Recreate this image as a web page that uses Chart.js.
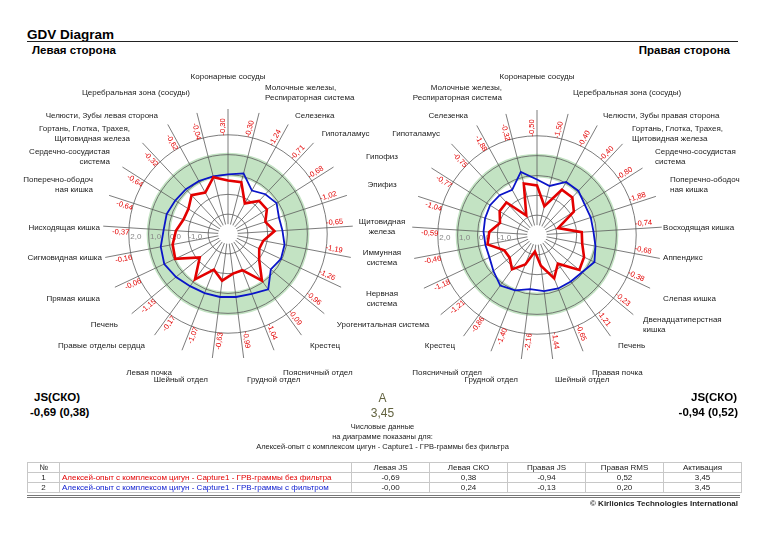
<!DOCTYPE html>
<html>
<head>
<meta charset="utf-8">
<script src="https://cdn.jsdelivr.net/npm/chart.js@4.4.0/dist/chart.umd.min.js"></script>
<style>
  body { margin: 0; background: #fff; font-family: 'Liberation Sans', Arial, sans-serif; color: #000; }
  #page { position: relative; width: 765px; height: 535px; overflow: hidden; }
  .t { position: absolute; white-space: nowrap; line-height: 1; }
  canvas { position: absolute; top: 60px; }
  #leftChart { left: 0; }
  #rightChart { left: 371px; background: #fff; }
  #rule { position: absolute; left: 27px; top: 41px; width: 711px; height: 1px; background: #222; }
  table { position: absolute; left: 27px; top: 462px; border-collapse: collapse; font-size: 8px; table-layout: fixed; }
  td { border: 1px solid #c8c8c8; height: 9px; padding: 0 2px; text-align: center; line-height: 9px; white-space: nowrap; overflow: hidden; color: #222; }
  td.name { text-align: left; }
  #dbl { position: absolute; left: 27px; top: 495px; width: 713px; height: 0; border-top: 3px double #777; }
</style>
</head>
<body>
<div id="page">
  <div class="t" style="left:27px;top:28px;font-size:13.5px;font-weight:bold">GDV Diagram</div>
  <div id="rule"></div>
  <div class="t" style="left:32px;top:45px;font-size:11.5px;font-weight:bold">Левая сторона</div>
  <div class="t" style="right:35px;top:45px;font-size:11.5px;font-weight:bold">Правая сторона</div>

  <canvas id="leftChart" width="765" height="330"></canvas>
  <canvas id="rightChart" width="394" height="330"></canvas>

  <div class="t" style="left:34px;top:392px;font-size:11.5px;font-weight:bold">JS(СКО)</div>
  <div class="t" style="left:30px;top:407px;font-size:11.5px;font-weight:bold">-0,69 (0,38)</div>
  <div class="t" style="right:28px;top:392px;font-size:11.5px;font-weight:bold">JS(СКО)</div>
  <div class="t" style="right:27px;top:407px;font-size:11.5px;font-weight:bold">-0,94 (0,52)</div>

  <div class="t" style="left:0;width:765px;text-align:center;top:392px;font-size:12px;color:#62623f">A</div>
  <div class="t" style="left:0;width:765px;text-align:center;top:407px;font-size:12px;color:#62623f">3,45</div>
  <div class="t" style="left:0;width:765px;text-align:center;top:423px;font-size:7.5px;color:#222">Числовые данные</div>
  <div class="t" style="left:0;width:765px;text-align:center;top:433px;font-size:7.5px;color:#222">на диаграмме показаны для:</div>
  <div class="t" style="left:0;width:765px;text-align:center;top:443px;font-size:7.5px;color:#222">Алексей-опыт с комплексом цигун - Capture1 - ГРВ-граммы без фильтра</div>

  <table>
    <colgroup>
      <col style="width:32px"><col style="width:292px"><col style="width:78px"><col style="width:78px"><col style="width:78px"><col style="width:78px"><col style="width:78px">
    </colgroup>
    <tr><td>№</td><td></td><td>Левая JS</td><td>Левая СКО</td><td>Правая JS</td><td>Правая RMS</td><td>Активация</td></tr>
    <tr><td>1</td><td class="name" style="color:#e30000">Алексей-опыт с комплексом цигун - Capture1 - ГРВ-граммы без фильтра</td><td>-0,69</td><td>0,38</td><td>-0,94</td><td>0,52</td><td>3,45</td></tr>
    <tr><td>2</td><td class="name" style="color:#1020d0">Алексей-опыт с комплексом цигун - Capture1 - ГРВ-граммы с фильтром</td><td>-0,00</td><td>0,24</td><td>-0,13</td><td>0,20</td><td>3,45</td></tr>
  </table>
  <div id="dbl"></div>
  <div class="t" style="right:27px;top:500px;font-size:8px;font-weight:bold;color:#222">© Kirlionics Technologies International</div>
</div>

<script>
// Органы / зоны по секторам (по часовой стрелке от верха)
const labelsLeft = [
  'Коронарные сосуды', ['Молочные железы,', 'Респираторная система'], 'Селезенка', 'Гипоталамус',
  'Гипофиз', 'Эпифиз', ['Щитовидная', 'железа'], ['Иммунная', 'система'], ['Нервная', 'система'],
  'Урогенитальная система', 'Крестец', 'Поясничный отдел', 'Грудной отдел', 'Шейный отдел',
  'Левая почка', 'Правые отделы сердца', 'Печень', 'Прямая кишка', 'Сигмовидная кишка',
  'Нисходящая кишка', ['Поперечно-ободоч', 'ная кишка'], ['Сердечно-сосудистая', 'система'],
  ['Гортань, Глотка, Трахея,', 'Щитовидная железа'], 'Челюсти, Зубы левая сторона', 'Церебральная зона (сосуды)'
];
const labelsRight = [
  'Коронарные сосуды', 'Церебральная зона (сосуды)', 'Челюсти, Зубы правая сторона',
  ['Гортань, Глотка, Трахея,', 'Щитовидная железа'], ['Сердечно-сосудистая', 'система'],
  ['Поперечно-ободоч', 'ная кишка'], 'Восходящая кишка', 'Аппендикс', 'Слепая кишка',
  ['Двенадцатиперстная', 'кишка'], 'Печень', 'Правая почка', 'Шейный отдел', 'Грудной отдел',
  'Поясничный отдел', 'Крестец', 'Урогенитальная система', ['Нервная', 'система'], ['Иммунная', 'система'],
  ['Щитовидная', 'железа'], 'Эпифиз', 'Гипофиз', 'Гипоталамус', 'Селезенка', ['Молочные железы,', 'Респираторная система']
];

// Без фильтра (красная линия, подписанные значения)
const leftRaw = [-0.30, -0.30, -1.24, -0.71, -0.68, -1.02, -0.65, -1.19, -1.26, -0.96, -0.09, -1.04, -0.99,
  -0.63, -1.07, -0.17, -1.15, -0.06, -0.16, -0.37, -0.64, -0.64, -0.32, -0.62, -0.04];
const rightRaw = [-0.50, -1.50, -0.40, -0.40, -0.80, -1.88, -0.74, -0.68, -0.38, -0.23, -1.21, -0.65, -1.44,
  -2.16, -1.40, -0.86, -1.21, -1.18, -0.46, -0.59, -1.04, -0.77, -0.75, -1.88, -0.32];
// С фильтром (синяя линия)
const leftFilt = [0.0, 0.15, -0.5, -0.25, -0.1, -0.3, -0.25, -0.1, -0.05, -0.2, 0.45, 0.25, 0.2,
  0.2, 0.2, 0.25, 0.4, 0.55, 0.45, 0.25, 0.25, 0.15, 0.1, 0.05, 0.0];
const rightFilt = [-0.2, -0.45, 0.05, 0.05, -0.15, -0.15, -0.15, 0.0, 0.2, -0.05, -0.1, -0.1, -0.15,
  -0.25, 0.0, 0.15, -0.15, -0.35, -0.35, -0.3, -0.25, -0.2, -0.25, -0.4, 0.28];

const tickValues = [-1, 0, 1, 2];
const normBand = [-0.1, 1.1];
const scaleMin = -3;
const scaleMax = 3.3;
const outerRing = 3;

// раскладка подписей: отступ от внешнего круга по x и по y (px) и выравнивание
const padXLeft = [0, 30, 20, 18, 63.4, 42.9, 35.3, 37.8, 51.2, 82.2, 20.5, 30.4, 32.6, 40.6, 33.1, 22.2, 23.8, 22.5, 9.3, 9.3, 22.9, 20.8, 24.2, 26.3, 33.8];
const padYLeft = [38, 26.6, 15.7, 18.2, 24.7, 39.6, -7.5, 9.1, 33.7, 23.8, 19.4, 30.5, 28.2, 28.2, 30.5, 19.4, 23.8, 33.7, 9.1, -23.5, 39.6, 24.7, 18.2, 15.7, 26.6];
const alignLeft = ['c', 'l', 'l', 'l', 'c', 'c', 'c', 'c', 'c', 'c', 'l', 'l', 'l', 'r', 'r', 'r', 'r', 'r', 'r', 'r', 'r', 'r', 'r', 'r', 'r'];
const padXRight = [0, 25.8, 18, 19.8, 20.8, 20.8, 7.3, 9.3, 20.3, 18.6, 18.8, 30.4, 24.7, 32.6, 30.4, 20.5, 80.9, 52.3, 38.8, 36.3, 43.9, 64.5, 22.7, 24.2, 21.7];
const padYRight = [39, 27.6, 16.8, 19.5, 26.6, 42.8, -7.5, 3.7, 31.3, 22.2, 18.2, 29.4, 27.2, 27.2, 29.4, 18.2, 22.2, 31.3, 3.7, 8.4, 42.8, 26.6, 19.5, 16.8, 27.6];
const alignRight = ['c', 'l', 'l', 'l', 'l', 'l', 'l', 'l', 'l', 'l', 'l', 'l', 'l', 'r', 'r', 'r', 'c', 'c', 'c', 'c', 'c', 'c', 'r', 'r', 'r'];

const fmt = v => v.toFixed(2).replace('.', ',');
const alignName = { l: 'left', r: 'right', c: 'center' };

function makeDecor(labels, values, padX, padY, align) {
  return {
    id: 'gdvDecor',
    beforeDraw(chart) {
      const s = chart.scales.r, ctx = chart.ctx;
      ctx.save();
      ctx.beginPath();
      ctx.arc(s.xCenter, s.yCenter, s.getDistanceFromCenterForValue(normBand[1]), 0, 2 * Math.PI);
      ctx.arc(s.xCenter, s.yCenter, s.getDistanceFromCenterForValue(normBand[0]), 0, 2 * Math.PI, true);
      ctx.fillStyle = '#c3e3c3';
      ctx.fill();
      ctx.restore();
    },
    beforeDatasetsDraw(chart) {
      const s = chart.scales.r, ctx = chart.ctx;
      ctx.save();
      // белый центр
      ctx.beginPath();
      ctx.arc(s.xCenter, s.yCenter, s.getDistanceFromCenterForValue(-2.5), 0, 2 * Math.PI);
      ctx.fillStyle = '#fff';
      ctx.fill();
      // подписи шкалы слева
      ctx.font = '8px "Liberation Sans", Arial';
      ctx.fillStyle = '#888';
      ctx.textAlign = 'center';
      ctx.textBaseline = 'middle';
      tickValues.forEach(v => {
        ctx.fillText(v.toFixed(1).replace('.', ','), s.xCenter - s.getDistanceFromCenterForValue(v) + 7, s.yCenter + 3);
      });
      ctx.restore();
    },
    afterDraw(chart) {
      const s = chart.scales.r, ctx = chart.ctx;
      const n = labels.length;
      ctx.save();
      // числовые значения (красные)
      ctx.font = '7.5px "Liberation Sans", Arial';
      ctx.fillStyle = '#e30000';
      ctx.textAlign = 'center';
      ctx.textBaseline = 'middle';
      const rl = s.getDistanceFromCenterForValue(2.4);
      values.forEach((v, i) => {
        const p = s.getPointPosition(i, rl);
        const a = p.angle;
        const rot = (i * 360 / n) < 180 ? a : a - Math.PI;
        ctx.save();
        ctx.translate(p.x + 5 * Math.sin(a), p.y - 5 * Math.cos(a));
        ctx.rotate(rot);
        ctx.fillText(fmt(v), 0, 0);
        ctx.restore();
      });
      // названия секторов
      ctx.font = '8px "Liberation Sans", Arial';
      ctx.fillStyle = '#222';
      const rOut = s.getDistanceFromCenterForValue(outerRing);
      labels.forEach((lbl, i) => {
        const px = s.getPointPosition(i, rOut + padX[i]).x;
        const py = s.getPointPosition(i, rOut + padY[i]).y;
        ctx.textAlign = alignName[align[i]];
        const lines = Array.isArray(lbl) ? lbl : [lbl];
        const lh = 10;
        const y0 = py - (lines.length - 1) * lh / 2;
        lines.forEach((t, k) => ctx.fillText(t, px, y0 + k * lh));
      });
      ctx.restore();
    }
  };
}

function makeChart(id, labels, raw, filt, padX, padY, align, padding) {
  return new Chart(document.getElementById(id), {
    type: 'radar',
    data: {
      labels: labels,
      datasets: [
        { label: 'без фильтра', data: raw, borderColor: '#e30000', borderWidth: 2.6, pointRadius: 0, fill: false },
        { label: 'с фильтром', data: filt, borderColor: '#0a14c8', borderWidth: 1.8, pointRadius: 0, fill: false }
      ]
    },
    options: {
      responsive: false,
      animation: false,
      layout: { padding: padding },
      plugins: { legend: { display: false }, tooltip: { enabled: false } },
      elements: { line: { tension: 0 } },
      scales: {
        r: {
          min: scaleMin,
          max: scaleMax,
          ticks: { display: false, stepSize: 1 },
          pointLabels: { display: false },
          grid: {
            circular: true,
            color: c => c.tick.value === scaleMax ? 'rgba(0,0,0,0)' : (c.tick.value === outerRing ? '#1a1a1a' : '#5a5a5a'),
            lineWidth: c => c.tick.value === outerRing ? 1.6 : 0.8
          },
          angleLines: { color: '#5a5a5a', lineWidth: 0.8 }
        }
      }
    },
    plugins: [makeDecor(labels, raw, padX, padY, align)]
  });
}

makeChart('leftChart', labelsLeft, leftRaw, leftFilt, padXLeft, padYLeft, alignLeft, { left: 103, right: 412, top: 49, bottom: 31 });
makeChart('rightChart', labelsRight, rightRaw, rightFilt, padXRight, padYRight, alignRight, { left: 41, right: 103, top: 50, bottom: 30 });
</script>
</body>
</html>
